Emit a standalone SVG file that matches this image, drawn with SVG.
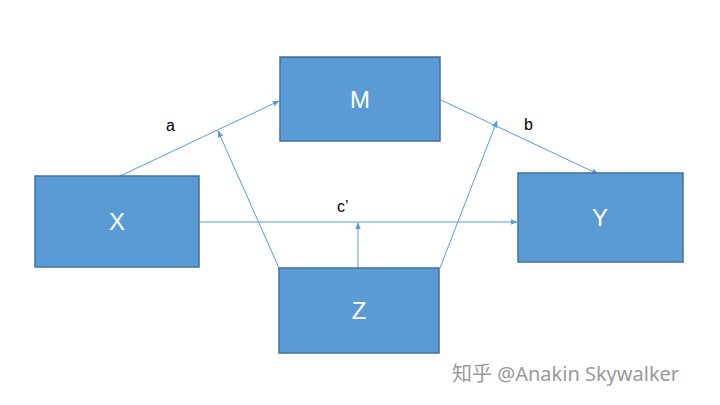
<svg xmlns="http://www.w3.org/2000/svg" width="720" height="405" viewBox="0 0 720 405">
<style>
.box{fill:#5B9BD5;stroke:#41719C;stroke-width:1.5}
.lbl{font-family:"Liberation Sans",Arial,sans-serif;font-size:24px;fill:#fff;text-anchor:middle}
.e{stroke:#5B9BD5;stroke-width:1;fill:none;marker-end:url(#ah)}
.el{font-family:"Liberation Sans",Arial,sans-serif;font-size:16px;fill:#000}
</style>
<defs><marker id="ah" viewBox="0 0 10 10" refX="9" refY="5" markerWidth="7" markerHeight="7" orient="auto"><path d="M0,1 L10,5 L0,9 z" fill="#5B9BD5"/></marker></defs>
<rect width="720" height="405" fill="#fff"/>
<g id="connectors">
<line class="e" x1="120" y1="176" x2="279" y2="101"/>
<line class="e" x1="441" y1="100" x2="598" y2="174"/>
<line class="e" x1="199" y1="222" x2="517" y2="222"/>
<line class="e" x1="358" y1="268" x2="358" y2="223"/>
<line class="e" x1="279" y1="268" x2="218" y2="131"/>
<line class="e" x1="440" y1="268" x2="497" y2="121"/>
<text class="el" x="166" y="131">a</text>
<text class="el" x="524" y="130">b</text>
<text class="el" x="337" y="212">c’</text>
</g>
<g id="X"><rect class="box" x="35" y="176" width="164" height="91"/><text class="lbl" x="117" y="230">X</text></g>
<g id="M"><rect class="box" x="280" y="57" width="160" height="84"/><text class="lbl" x="360" y="108">M</text></g>
<g id="Y"><rect class="box" x="518" y="173" width="165" height="89"/><text class="lbl" x="600" y="226">Y</text></g>
<g id="Z"><rect class="box" x="279" y="268" width="160" height="85"/><text class="lbl" x="359" y="319">Z</text></g>
<text x="452" y="381" style="font-family:'Noto Sans','Noto Sans CJK SC',sans-serif;font-size:20px;fill:#999">知乎 @Anakin Skywalker</text>
</svg>
